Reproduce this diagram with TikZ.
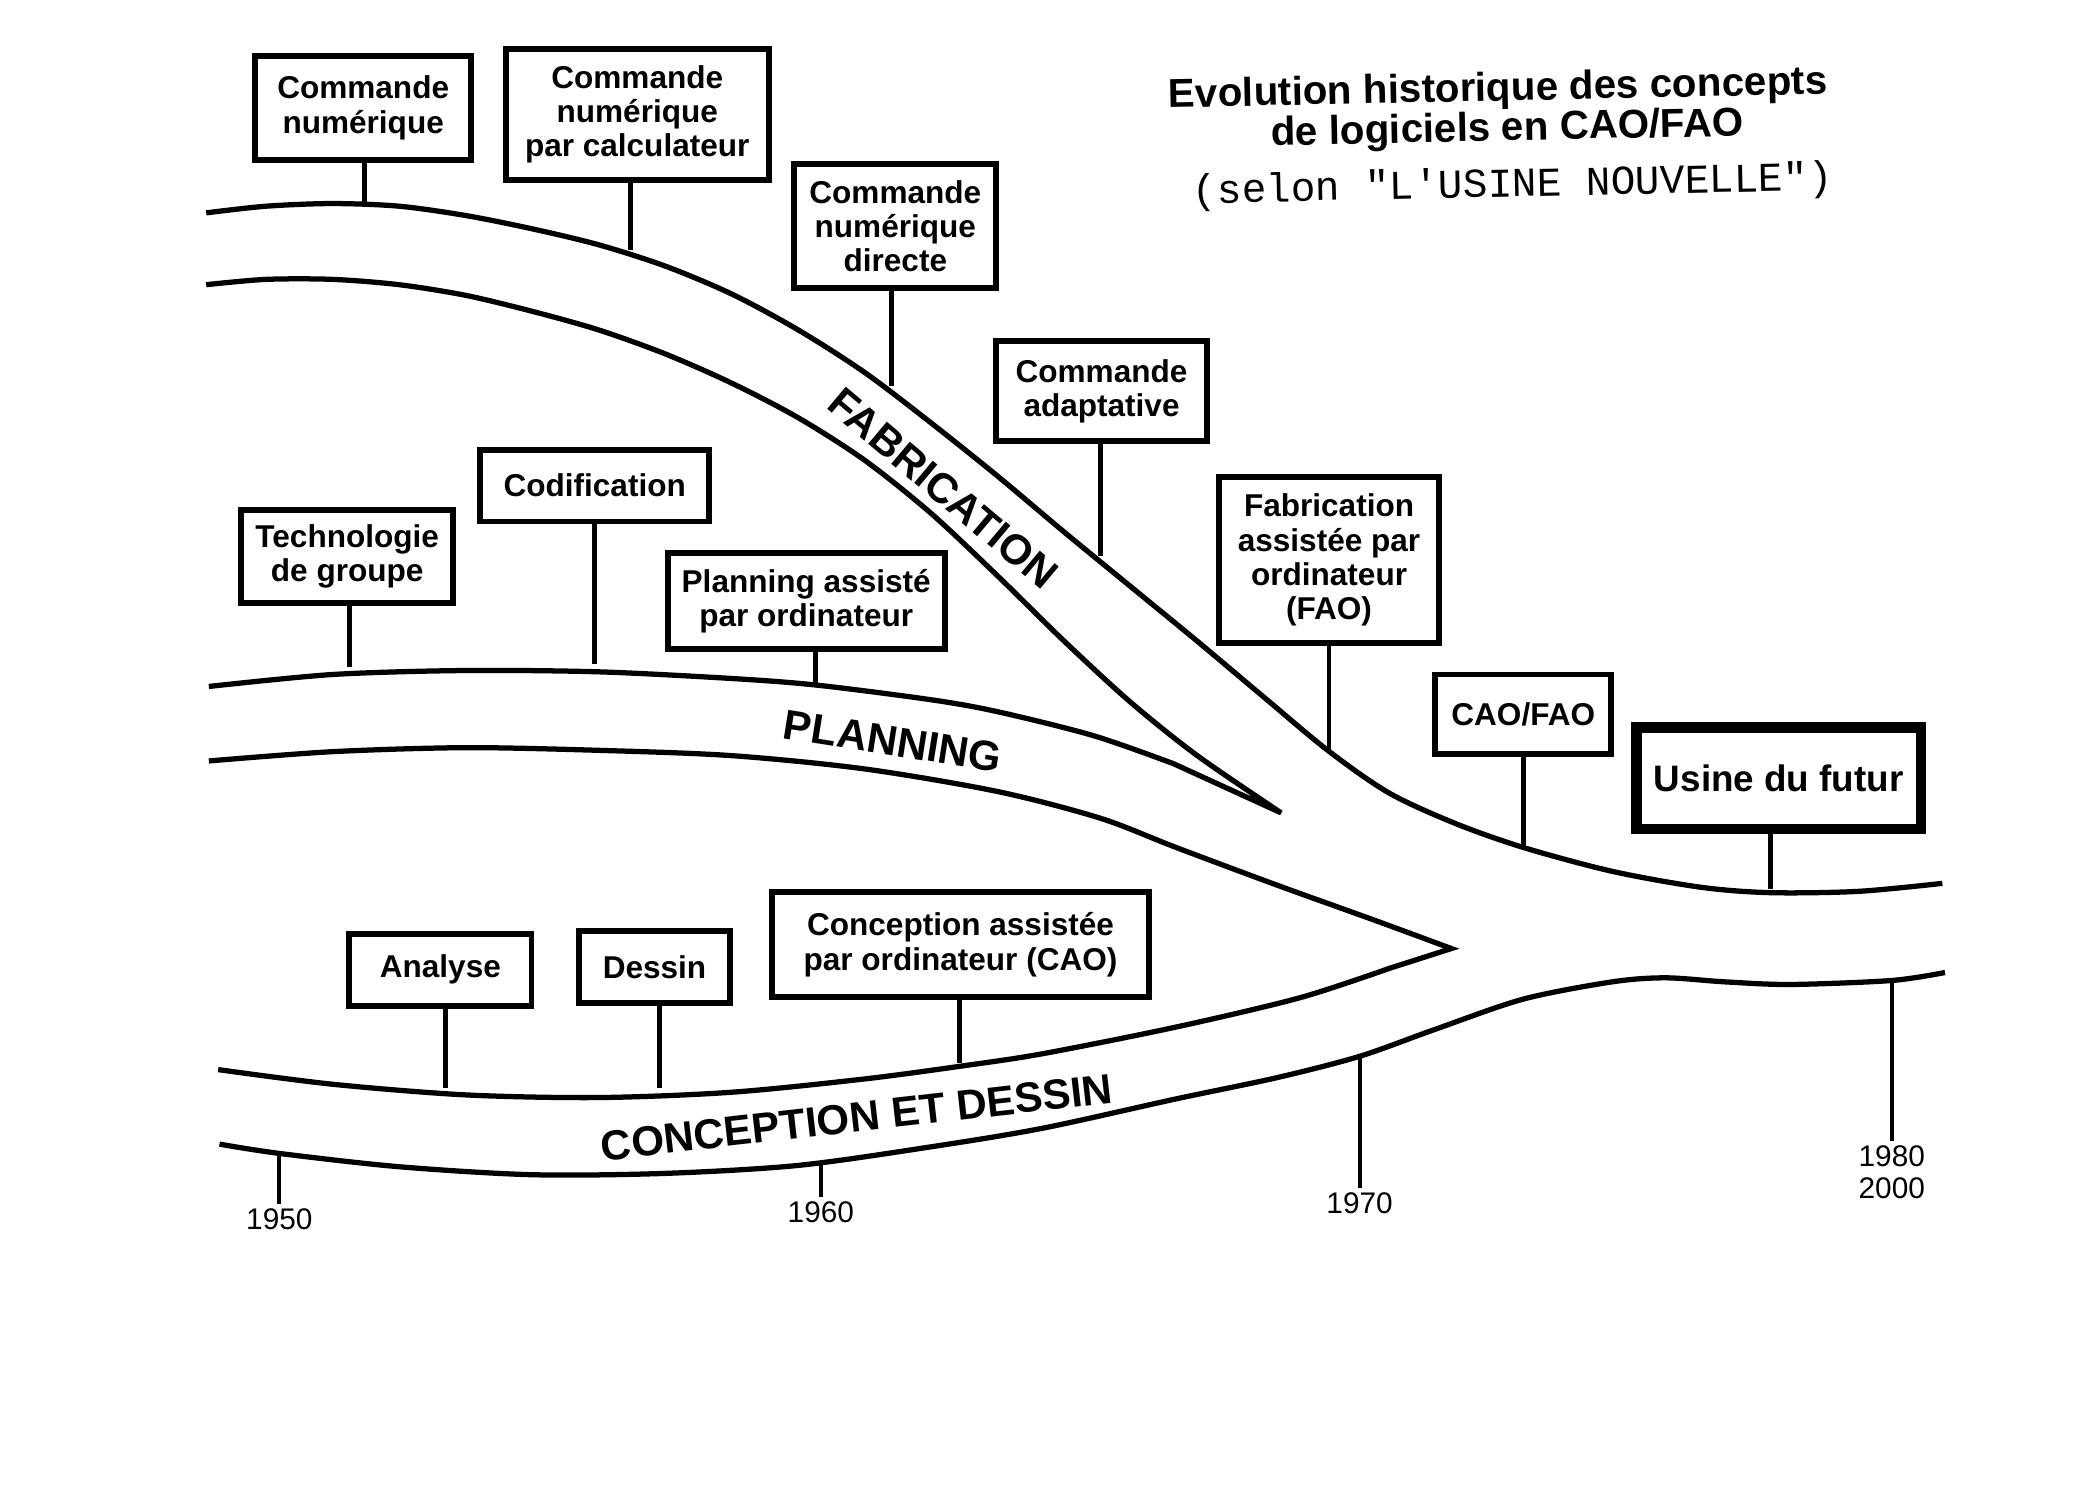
\documentclass[tikz,border=0pt]{standalone}
\usepackage{fontspec}
\setmainfont{Liberation Sans}
\setmonofont{Liberation Mono}
\usetikzlibrary{positioning}
\newcommand{\pxu}{0.013333cm}

\begin{document}
\begin{tikzpicture}
[
	x=\pxu, y=-\pxu,
	bx/.style 2 args={rectangle,draw,line width=1.7pt,minimum width=#1*\pxu,minimum height=#2*\pxu,align=center,inner sep=1pt,font=\fontsize{9}{9.8}\selectfont\bfseries},
	stem/.style={line width=1.4pt},
	band/.style={line width=1.5pt,line join=miter},
	tck/.style={line width=1.2pt},
	yr/.style={anchor=north,inner sep=1pt,align=center,font=\fontsize{8.5}{9}\selectfont},
	flow/.style={font=\fontsize{12}{12}\selectfont\bfseries},
	ttl/.style={rotate=1.2,font=\fontsize{11.5}{13}\selectfont\bfseries}
]
\useasboundingbox (0,0) rectangle (1568,1123);

\node[ttl] (t1) at (1126,68) {Evolution historique des concepts};
\node[ttl] (t2) at (1133,98) {de logiciels en CAO/FAO};
\node[rotate=1.2,font=\fontsize{11.7}{13}\selectfont\ttfamily] (t3) at (1137,140) {(selon "L'USINE NOUVELLE")};

\node[bx={162}{78}] (b1) at (273,81) {Commande\\numérique};
\node[bx={198}{99}] (b2) at (479,86) {Commande\\numérique\\par calculateur};
\node[bx={152}{93}] (b3) at (673,170) {Commande\\numérique\\directe};
\node[bx={158}{75}] (b4) at (828,294) {Commande\\adaptative};
\node[bx={166}{125}] (b5) at (999,421) {Fabrication\\assistée par\\ordinateur\\(FAO)};
\node[bx={132}{60}] (b6) at (1145,537) {CAO/FAO};
\node[bx={214}{76},line width=3pt,font=\fontsize{10.5}{12}\selectfont\bfseries] (b7) at (1337,585) {Usine du futur};
\node[bx={159}{70}] (b8) at (261,418) {Technologie\\de groupe};
\node[bx={172}{54}] (b9) at (447,365) {Codification};
\node[bx={208}{72}] (b10) at (606,452) {Planning assisté\\par ordinateur};
\node[bx={137}{54}] (b11) at (331,729) {Analyse};
\node[bx={114}{54}] (b12) at (492,727) {Dessin};
\node[bx={283}{79}] (b13) at (722,710) {Conception assistée\\par ordinateur (CAO)};

\node[flow,rotate=-40] (lf) at (709,367) {FABRICATION};
\node[flow,rotate=-9] (lp) at (671,557) {PLANNING};
\node[flow,rotate=6.5] (lc) at (644,840) {CONCEPTION ET DESSIN};

\node[yr] (y1) at (210,905) {1950};
\node[yr] (y2) at (617,900) {1960};
\node[yr] (y3) at (1022,893) {1970};
\node[yr] (y4) at (1422,858) {1980\\2000};

\draw[band] plot[smooth,tension=0.5] coordinates {(155,160) (200,155) (250,153) (300,155) (350,162) (400,172) (450,184) (500,200) (550,221) (600,248) (650,280) (700,318) (750,358) (800,400) (850,441) (900,482) (950,524) (998,564) (1044,596) (1094,619) (1145,637) (1212,655) (1279,667) (1331,671) (1397,670) (1460,664)};
\draw[band] plot[smooth,tension=0.5] coordinates {(155,214) (200,210) (250,210) (300,214) (350,222) (400,234) (450,248) (500,266) (550,288) (600,314) (650,346) (700,386) (750,433) (800,482) (850,528) (900,568) (963,611)}
	-- plot[smooth,tension=0.5] coordinates {(882,574) (822,553) (750,535) (700,526) (614,515) (550,510) (450,505) (350,504) (250,507) (157,516)};
\draw[band] plot[smooth,tension=0.5] coordinates {(157,572) (250,565) (350,562) (450,564) (550,568) (650,578) (750,595) (827,615) (884,637) (959,665) (1034,692) (1091,713)}
	-- plot[smooth,tension=0.5] coordinates {(1044,728) (977,750) (884,772) (784,792) (725,801) (650,811) (550,821) (450,825) (350,823) (250,815) (164,804)};
\draw[band] plot[smooth,tension=0.5] coordinates {(165,860) (210,867) (300,877) (400,883) (500,882) (600,876) (700,862) (784,848) (884,826) (960,810) (1022,794) (1078,774) (1145,751) (1212,738) (1252,735) (1296,738) (1346,740) (1422,737) (1462,731)};

\coordinate (f1) at (274,152);
\coordinate (f2) at (474,188);
\coordinate (f3) at (670,290);
\coordinate (f4) at (827,418);
\coordinate (f5) at (999,564);
\coordinate (f6) at (1145,635);
\coordinate (f7) at (1331,668);
\coordinate (f8) at (263,501);
\coordinate (f9) at (447,499);
\coordinate (f10) at (613,514);
\coordinate (f11) at (335,818);
\coordinate (f12) at (496,818);
\coordinate (f13) at (721,799);

\draw[stem] (f1 |- b1.south) -- (f1);
\draw[stem] (f2 |- b2.south) -- (f2);
\draw[stem] (f3 |- b3.south) -- (f3);
\draw[stem] (f4 |- b4.south) -- (f4);
\draw[stem] (f5 |- b5.south) -- (f5);
\draw[stem] (f6 |- b6.south) -- (f6);
\draw[stem] (f7 |- b7.south) -- (f7);
\draw[stem] (f8 |- b8.south) -- (f8);
\draw[stem] (f9 |- b9.south) -- (f9);
\draw[stem] (f10 |- b10.south) -- (f10);
\draw[stem] (f11 |- b11.south) -- (f11);
\draw[stem] (f12 |- b12.south) -- (f12);
\draw[stem] (f13 |- b13.south) -- (f13);

\coordinate (k1) at (210,867);
\coordinate (k2) at (617,875);
\coordinate (k3) at (1022,794);
\coordinate (k4) at (1422,737);

\draw[tck] (k1) -- (y1.north);
\draw[tck] (k2) -- (y2.north);
\draw[tck] (k3) -- (y3.north);
\draw[tck] (k4) -- (y4.north);

\end{tikzpicture}
\end{document}
